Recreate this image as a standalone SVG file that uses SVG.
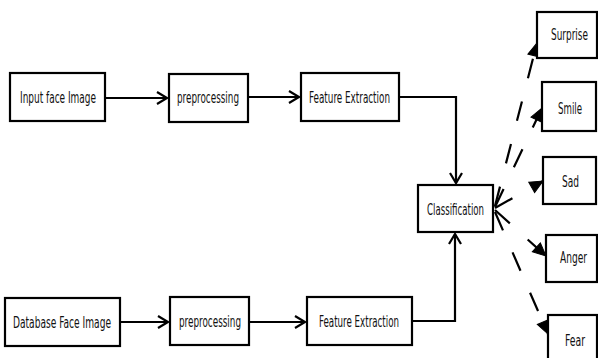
<svg xmlns="http://www.w3.org/2000/svg" width="598" height="358" viewBox="0 0 598 358">
<defs>
<style>
.box{fill:#fff;stroke:#000;stroke-width:2.2}
.t{font-family:"DejaVu Sans Condensed","DejaVu Sans",sans-serif;font-size:15px;fill:#111;text-anchor:middle}
.c{fill:none;stroke:#000;stroke-width:2.2}
.d{fill:none;stroke:#000;stroke-width:2.2;stroke-dasharray:20 24}
</style>
<marker id="open" markerUnits="userSpaceOnUse" markerWidth="14" markerHeight="14" viewBox="-11 -7 13 14" refX="0" refY="0" orient="auto">
<path d="M-10,-6 L0,0 L-10,6" fill="none" stroke="#000" stroke-width="2.2"/>
</marker>
<marker id="fill" markerUnits="userSpaceOnUse" markerWidth="16" markerHeight="16" viewBox="-15 -8 16 16" refX="0" refY="0" orient="auto">
<path d="M-13,-6 L0,0 L-13,6 Z" fill="#000" stroke="#000" stroke-width="1"/>
</marker>
</defs>
<rect width="598" height="358" fill="#fff"/>

<g id="connectors">
<path class="c" d="M105,98 H167" marker-end="url(#open)"/>
<path class="c" d="M248,97 H299" marker-end="url(#open)"/>
<path class="c" d="M399,97 H456 V183" marker-end="url(#open)"/>
<path class="c" d="M120,322 H168" marker-end="url(#open)"/>
<path class="c" d="M249,322 H305" marker-end="url(#open)"/>
<path class="c" d="M412,321 H455 V234" marker-end="url(#open)"/>
<path class="d" d="M495,206 L537,43" marker-end="url(#fill)"/>
<path class="d" d="M495,207 L542,108" marker-end="url(#fill)"/>
<path class="d" d="M495,208 L543,181" marker-end="url(#fill)"/>
<path class="d" d="M495,210 L546,256" marker-end="url(#fill)"/>
<path class="d" d="M495,212 L548,334" marker-end="url(#fill)"/>
</g>

<g id="input"><rect class="box" x="10" y="73" width="95" height="48"/><text class="t" x="58" y="103" textLength="76" lengthAdjust="spacingAndGlyphs">Input face Image</text></g>
<g id="pre1"><rect class="box" x="169" y="74" width="79" height="48"/><text class="t" x="208" y="103" textLength="62" lengthAdjust="spacingAndGlyphs">preprocessing</text></g>
<g id="fe1"><rect class="box" x="301" y="73" width="98" height="48"/><text class="t" x="349.5" y="103" textLength="81" lengthAdjust="spacingAndGlyphs">Feature Extraction</text></g>
<g id="classification"><rect class="box" x="418" y="185" width="75" height="47"/><text class="t" x="455.5" y="215" textLength="57" lengthAdjust="spacingAndGlyphs">Classification</text></g>
<g id="db"><rect class="box" x="5" y="298" width="115" height="48"/><text class="t" x="62" y="328" textLength="98" lengthAdjust="spacingAndGlyphs">Database Face Image</text></g>
<g id="pre2"><rect class="box" x="170" y="297" width="79" height="48"/><text class="t" x="210" y="327" textLength="62" lengthAdjust="spacingAndGlyphs">preprocessing</text></g>
<g id="fe2"><rect class="box" x="307" y="297" width="105" height="48"/><text class="t" x="359" y="327" textLength="80" lengthAdjust="spacingAndGlyphs">Feature Extraction</text></g>
<g id="surprise"><rect class="box" x="537" y="12" width="60" height="46"/><text class="t" transform="translate(569.5,40) scale(1,1.2)" x="0" y="0" style="font-size:12.5px" textLength="37" lengthAdjust="spacingAndGlyphs">Surprise</text></g>
<g id="smile"><rect class="box" x="542" y="82" width="54" height="49"/><text class="t" x="570" y="114" textLength="24" lengthAdjust="spacingAndGlyphs">Smile</text></g>
<g id="sad"><rect class="box" x="543" y="157" width="53" height="47"/><text class="t" x="570.5" y="187" textLength="17" lengthAdjust="spacingAndGlyphs">Sad</text></g>
<g id="anger"><rect class="box" x="546" y="235" width="51" height="47"/><text class="t" transform="translate(573.5,263) scale(1,1.111)" x="0" y="0" style="font-size:13.5px" textLength="27" lengthAdjust="spacingAndGlyphs">Anger</text></g>
<g id="fear"><rect class="box" x="548" y="315" width="49" height="50"/><text class="t" x="575" y="346" textLength="20" lengthAdjust="spacingAndGlyphs">Fear</text></g>
</svg>
